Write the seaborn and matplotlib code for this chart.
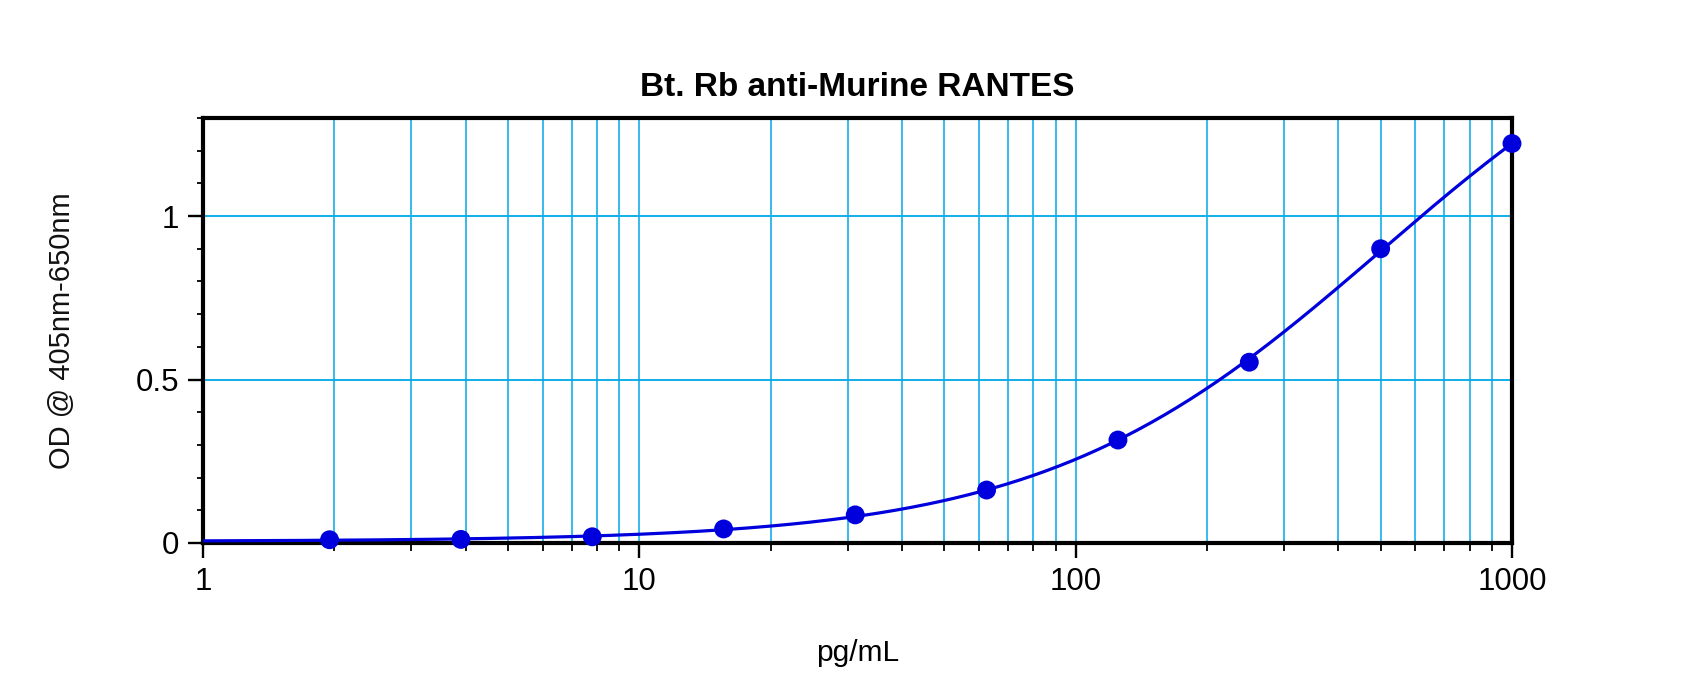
import numpy as np
import pandas as pd
import matplotlib
matplotlib.use("Agg")
import matplotlib.pyplot as plt
import matplotlib.ticker as mticker
import seaborn as sns

# standard curve readings (two-fold dilutions)
conc = [1.95, 3.9, 7.8, 15.6, 31.25, 62.5, 125, 250, 500, 1000]
od = [0.010, 0.011, 0.019, 0.043, 0.086, 0.162, 0.315, 0.553, 0.900, 1.222]

x_ticks = [1, 10, 100, 1000]
x_tick_labels = ["1", "10", "100", "1000"]
y_ticks = [0, 0.5, 1]
y_tick_labels = ["0", "0.5", "1"]

title = "Bt. Rb anti-Murine RANTES"
x_label = "pg/mL"
y_label = "OD @ 405nm-650nm"

df = pd.DataFrame({"conc": conc, "od": od})

# 4-parameter logistic fit: grid over slope/midpoint, linear solve for bottom/top
xs = df["conc"].to_numpy()
ys = df["od"].to_numpy()
best = None
for b in np.linspace(0.5, 3.0, 126):
    for logc in np.linspace(1.0, 5.0, 201):
        g = 1.0 / (1.0 + (xs / 10 ** logc) ** b)
        A = np.column_stack([g, 1 - g])
        coef = np.linalg.lstsq(A, ys, rcond=None)[0]
        err = np.sum((A @ coef - ys) ** 2)
        if best is None or err < best[0]:
            best = (err, b, logc, coef)
_, b_fit, logc_fit, (bot_fit, top_fit) = best
xfit = np.logspace(0, 3, 400)
gfit = 1.0 / (1.0 + (xfit / 10 ** logc_fit) ** b_fit)
fit = pd.DataFrame({"conc": xfit, "od": bot_fit * gfit + top_fit * (1 - gfit)})

sns.set_style("ticks")
plt.rcParams["font.family"] = ["Liberation Sans", "DejaVu Sans"]
plt.rcParams["text.color"] = "black"
plt.rcParams["axes.labelcolor"] = "black"

blue = "#0000DD"
grid_col = "#00A8E8"

fig, ax = plt.subplots(figsize=(17, 6.92), dpi=100)
fig.subplots_adjust(left=203 / 1700, right=1512 / 1700,
                    bottom=1 - 543 / 692, top=1 - 118 / 692)

sns.lineplot(data=fit, x="conc", y="od", color=blue, linewidth=2.3, ax=ax, zorder=3)
sns.scatterplot(data=df, x="conc", y="od", color=blue, s=185, edgecolor="none",
                ax=ax, zorder=4, clip_on=False)

ax.set_xscale("log")
ax.set_xlim(1, 1000)
ax.set_ylim(0, 1.3)

ax.xaxis.set_major_locator(mticker.FixedLocator(x_ticks))
ax.xaxis.set_major_formatter(mticker.FixedFormatter(x_tick_labels))
ax.xaxis.set_minor_locator(mticker.LogLocator(base=10, subs=np.arange(2, 10)))
ax.xaxis.set_minor_formatter(mticker.NullFormatter())
ax.yaxis.set_major_locator(mticker.FixedLocator(y_ticks))
ax.yaxis.set_major_formatter(mticker.FixedFormatter(y_tick_labels))
ax.yaxis.set_minor_locator(mticker.MultipleLocator(0.1))

ax.set_axisbelow(True)
ax.grid(which="both", axis="x", color=grid_col, linewidth=1.1)
ax.grid(which="major", axis="y", color=grid_col, linewidth=1.3)

for s in ax.spines.values():
    s.set_visible(True)
    s.set_linewidth(3.0)
    s.set_color("black")

ax.tick_params(axis="both", which="major", direction="out", length=11, width=1.7,
               color="black", labelsize=22.5, pad=6, labelcolor="black")
ax.tick_params(axis="x", which="minor", direction="out", length=6, width=1.3, color="black")
ax.tick_params(axis="y", which="minor", direction="out", length=4, width=1.3, color="black")

ax.set_title(title, fontsize=24, fontweight="bold", pad=16, color="black")
ax.set_xlabel(x_label, fontsize=21.5)
ax.set_ylabel(y_label, fontsize=21, color="#111111")
ax.xaxis.set_label_coords(0.5, -0.226)
ax.yaxis.set_label_coords(-0.097, 0.5)

fig.savefig("out.png", dpi=100, facecolor="white")
